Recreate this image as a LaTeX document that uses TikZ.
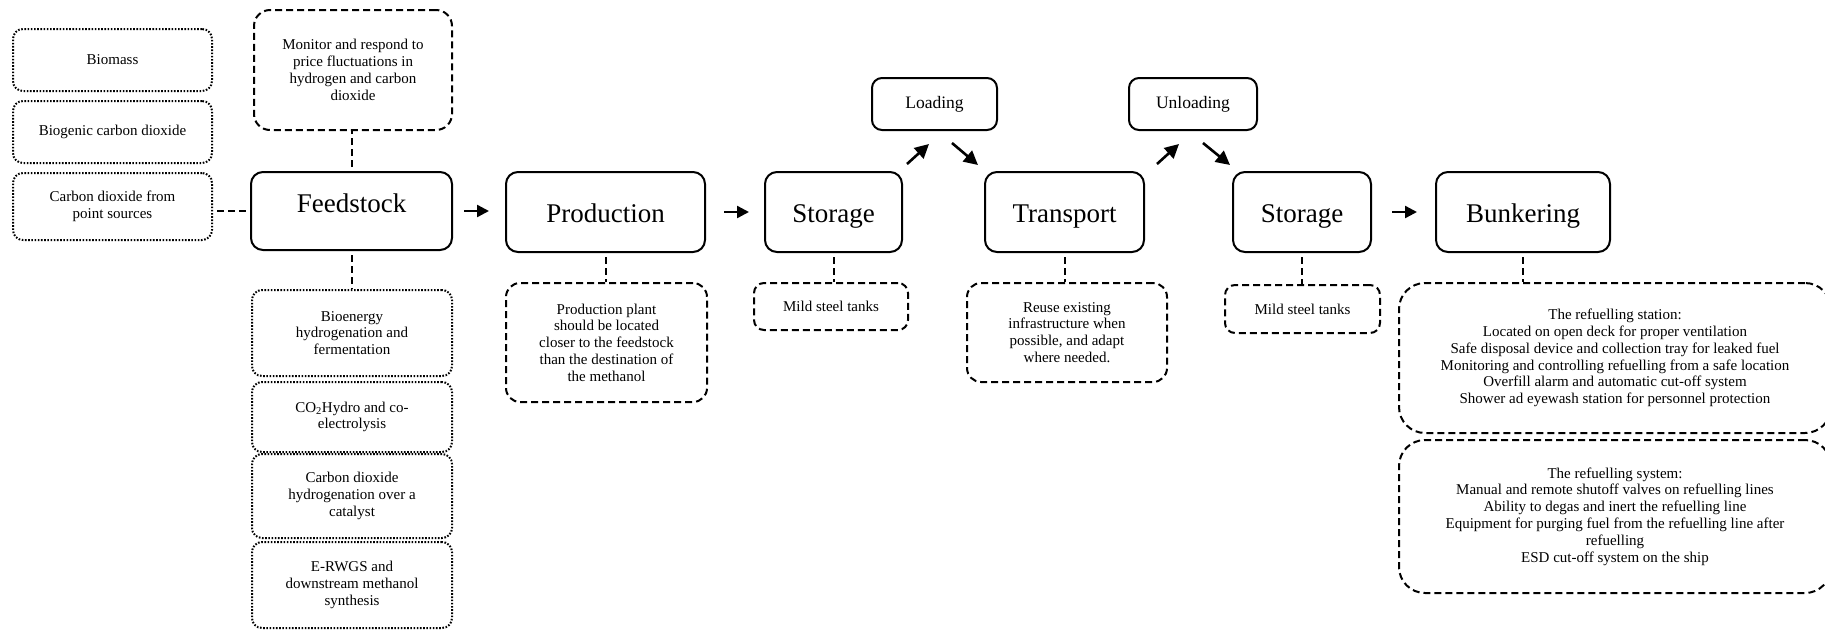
\documentclass[tikz,border=0pt]{standalone}
\usepackage{fontspec}
\setmainfont{Liberation Serif}
\usetikzlibrary{arrows.meta,calc}
\begin{document}
\begin{tikzpicture}[x=1pt,y=-1pt,
  mainbox/.style={draw, line width=2pt, rounded corners=12pt, inner sep=0pt, align=center, text height=20pt, text depth=0pt, font=\fontsize{27}{32}\selectfont},
  smallbox/.style={draw, line width=2pt, rounded corners=10pt, inner sep=0pt, align=center, font=\fontsize{17.5}{20}\selectfont},
  notebox/.style={draw, line width=2pt, dash pattern=on 7pt off 4pt, rounded corners=14pt, inner sep=0pt, align=center, font=\fontsize{15}{16.8}\selectfont},
  dotbox/.style={draw, line width=2pt, dash pattern=on 1.6pt off 1.6pt, rounded corners=10pt, inner sep=0pt, align=center, font=\fontsize{15}{16.8}\selectfont},
  dline/.style={line width=2pt, dash pattern=on 7pt off 4pt, dash phase=-4pt},
  arr/.style={line width=2.4pt, -{Triangle[length=12pt,width=12pt]}},
  darr/.style={line width=2.6pt, -{Triangle[length=14pt,width=14pt]}}
]
\useasboundingbox (0,0) rectangle (1825,630);
\clip (0,0) rectangle (1825,630);

% left dotted feedstock sources
\node[dotbox, minimum width=199pt, minimum height=62pt] (bio) at (112.5,60) {Biomass};
\node[dotbox, minimum width=199pt, minimum height=62pt] (biogen) at (112.5,132) {Biogenic carbon dioxide};
\node[dotbox, minimum width=199pt, minimum height=67pt] (ps) at (112.5,206.5) {Carbon dioxide from\\point sources};

% feedstock column
\node[notebox, rounded corners=16pt, minimum width=198pt, minimum height=120pt] (mon) at (353,70) {Monitor and respond to\\price fluctuations in\\hydrogen and carbon\\dioxide};
\node[mainbox, text height=18pt, text depth=16pt, minimum width=201pt, minimum height=78pt] (feed) at (351.5,211) {Feedstock};
\node[dotbox, minimum width=200pt, minimum height=86pt] (bioe) at (352,333) {Bioenergy\\hydrogenation and\\fermentation};
\node[dotbox, minimum width=200pt, minimum height=70pt] (co2h) at (352,417) {CO\textsubscript{2}Hydro and co-\\electrolysis};
\node[dotbox, minimum width=200pt, minimum height=84pt] (cdh) at (352,496) {Carbon dioxide\\hydrogenation over a\\catalyst};
\node[dotbox, minimum width=200pt, minimum height=86pt] (erwgs) at (352,585) {E-RWGS and\\downstream methanol\\synthesis};

% production
\node[mainbox, minimum width=199pt, minimum height=80pt] (prod) at (605.5,212) {Production};
\node[notebox, minimum width=201pt, minimum height=119pt] (prodn) at (606.5,342.5) {Production plant\\should be located\\closer to the feedstock\\than the destination of\\the methanol};

% storage 1
\node[mainbox, minimum width=137pt, minimum height=80pt] (st1) at (833.5,212) {Storage};
\node[notebox, rounded corners=10pt, minimum width=154pt, minimum height=47pt] (mild1) at (831,306.5) {Mild steel tanks};

% loading / transport / unloading
\node[smallbox, minimum width=125pt, minimum height=52pt] (load) at (934.5,104) {Loading};
\node[mainbox, minimum width=159pt, minimum height=80pt] (trans) at (1064.5,212) {Transport};
\node[notebox, minimum width=200pt, minimum height=99pt] (reuse) at (1067,332.5) {Reuse existing\\infrastructure when\\possible, and adapt\\where needed.};
\node[smallbox, minimum width=128pt, minimum height=52pt] (unload) at (1193,104) {Unloading};

% storage 2
\node[mainbox, minimum width=138pt, minimum height=80pt] (st2) at (1302,212) {Storage};
\node[notebox, rounded corners=10pt, minimum width=155pt, minimum height=48pt] (mild2) at (1302.5,309) {Mild steel tanks};

% bunkering
\node[mainbox, minimum width=174pt, minimum height=80pt] (bunk) at (1523,212) {Bunkering};
\node[notebox, rounded corners=26pt, minimum width=432pt, minimum height=150pt] (station) at (1615,358) {The refuelling station:\\Located on open deck for proper ventilation\\Safe disposal device and collection tray for leaked fuel\\Monitoring and controlling refuelling from a safe location\\Overfill alarm and automatic cut-off system\\Shower ad eyewash station for personnel protection};
\node[notebox, rounded corners=26pt, minimum width=432pt, minimum height=153pt] (system) at (1615,516.5) {The refuelling system:\\Manual and remote shutoff valves on refuelling lines\\Ability to degas and inert the refuelling line\\Equipment for purging fuel from the refuelling line after\\refuelling\\ESD cut-off system on the ship};

% dashed connectors
\coordinate (psr) at ([yshift=-4.5pt]ps.east);
\draw[dline] (psr) -- (psr -| feed.west);
\draw[dline] (feed.north) -- (feed.north |- mon.south);
\draw[dline] (feed.south) -- (feed.south |- bioe.north);
\draw[dline] (prod.south) -- (prod.south |- prodn.north);
\draw[dline] (st1.south) -- (st1.south |- mild1.north);
\draw[dline] (trans.south) -- (trans.south |- reuse.north);
\draw[dline] (st2.south) -- (st2.south |- mild2.north);
\draw[dline] (bunk.south) -- (bunk.south |- station.north);

% arrows
\draw[arr, shorten <=11pt, shorten >=16pt] (feed.east) -- (feed.east -| prod.west);
\draw[arr, shorten <=18pt, shorten >=15pt] (prod.east) -- (prod.east -| st1.west);
\draw[arr, shorten <=20pt, shorten >=18pt] (st2.east) -- (st2.east -| bunk.west);

\coordinate (a1s) at (907,164);  \coordinate (a1e) at (929,144);
\coordinate (a2s) at (952,143);  \coordinate (a2e) at (978,165);
\coordinate (a3s) at (1157,164); \coordinate (a3e) at (1179,144);
\coordinate (a4s) at (1203,143); \coordinate (a4e) at (1230,165);
\draw[darr] (a1s) -- (a1e);
\draw[darr] (a2s) -- (a2e);
\draw[darr] (a3s) -- (a3e);
\draw[darr] (a4s) -- (a4e);
\end{tikzpicture}
\end{document}
